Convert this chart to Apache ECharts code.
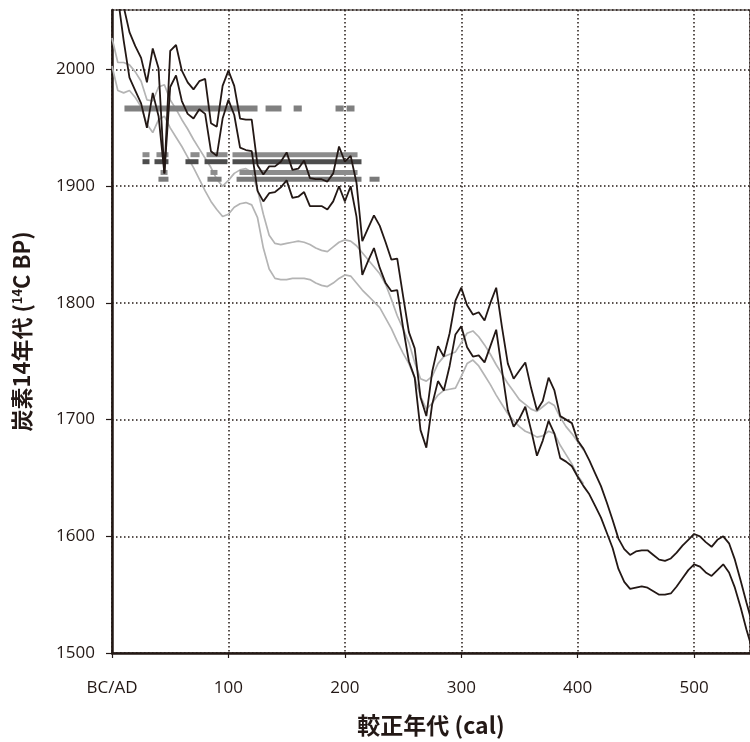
<!DOCTYPE html>
<html><head><meta charset="utf-8">
<script src="https://cdn.jsdelivr.net/npm/echarts@6/dist/echarts.min.js"></script>
<style>html,body{margin:0;padding:0;background:#fff}#c{width:750px;height:742px}</style>
</head><body><div id="c"></div>
<script>
// calendar years (cal AD), 5-year steps
const years = [0,5,10,15,20,25,30,35,40,45,50,55,60,65,70,75,80,85,90,95,100,105,110,115,120,125,130,135,140,145,150,155,160,165,170,175,180,185,190,195,200,205,210,215,220,225,230,235,240,245,250,255,260,265,270,275,280,285,290,295,300,305,310,315,320,325,330,335,340,345,350,355,360,365,370,375,380,385,390,395,400,405,410,415,420,425,430,435,440,445,450,455,460,465,470,475,480,485,490,495,500,505,510,515,520,525,530,535,540,545,550];
// black calibration curve, upper and lower bounds (14C BP)
const blackUpper = [2095,2075,2054,2032,2020,2010,1989,2018,2001,1911,2016,2021,1999,1989,1983,1990,1992,1954,1951,1986,1999,1986,1958,1957,1957,1918,1910,1917,1917,1921,1929,1914,1915,1922,1907,1906,1906,1904,1911,1934,1921,1926,1903,1853,1864,1875,1866,1852,1837,1838,1806,1775,1761,1719,1703,1741,1763,1754,1774,1802,1813,1798,1790,1792,1785,1800,1813,1779,1748,1735,1742,1749,1727,1708,1716,1736,1725,1703,1700,1697,1682,1675,1665,1654,1643,1629,1614,1598,1589,1584,1587,1588,1588,1584,1580,1579,1581,1586,1592,1597,1602,1600,1595,1591,1597,1600,1594,1580,1562,1543,1525];
const blackLower = [2090,2062,2025,1993,1982,1971,1950,1980,1960,1911,1985,1995,1973,1962,1958,1966,1962,1930,1926,1958,1974,1961,1933,1931,1930,1896,1887,1894,1895,1899,1905,1890,1891,1895,1883,1883,1883,1880,1887,1900,1887,1900,1874,1824,1836,1847,1830,1817,1810,1811,1779,1750,1736,1691,1676,1713,1733,1725,1746,1773,1780,1762,1754,1755,1749,1763,1777,1742,1708,1694,1701,1711,1691,1669,1682,1699,1688,1667,1664,1660,1651,1643,1636,1626,1616,1603,1590,1572,1561,1555,1556,1557,1556,1553,1550,1550,1551,1557,1564,1571,1576,1574,1569,1566,1571,1576,1569,1556,1539,1520,1503];
// gray curve, upper and lower bounds (years 0..405)
const grayUpper = [2027,2006,2006,2004,1998,1990,1974,1973,1985,1987,1974,1966,1957,1949,1940,1932,1924,1916,1906,1900,1905,1911,1914,1915,1912,1897,1876,1858,1851,1850,1851,1852,1853,1852,1850,1847,1845,1844,1848,1852,1854,1853,1849,1843,1837,1831,1825,1816,1803,1789,1778,1766,1749,1735,1733,1737,1748,1754,1756,1758,1766,1774,1776,1771,1764,1756,1747,1739,1731,1724,1717,1713,1709,1707,1711,1715,1712,1702,1694,1688,1681,1674];
const grayLower = [2003,1982,1980,1982,1976,1968,1953,1946,1957,1960,1950,1942,1934,1925,1916,1906,1896,1887,1880,1874,1876,1882,1885,1886,1884,1873,1847,1829,1821,1820,1820,1821,1821,1821,1820,1817,1815,1814,1817,1821,1824,1823,1817,1811,1806,1801,1796,1787,1778,1767,1757,1748,1736,1720,1709,1714,1721,1725,1726,1727,1737,1748,1751,1746,1738,1730,1721,1713,1705,1699,1694,1690,1688,1685,1686,1690,1688,1678,1670,1662,1652,1645];
// calibrated ranges: [from, to] in cal AD, each row at a 14C level
const range1966 = [[10.7,125],[131.9,145.6],[156,163],[192,199],[201.5,208.3]];
const range1927 = [[26.2,32.2],[38.2,48.5],[67.4,75.2],[81.2,99.2],[103.5,210.9]];
const range1921 = [[26.2,32.2],[36.5,48.5],[63.1,74.3],[79.5,99.2],[103.5,214.3]];
const range1912 = [[41.7,47.7],[84.6,90.6],[109.5,210.9]];
const range1906 = [[39.9,48.5],[82,94.1],[107,214.3],[221.2,229.8]];
const rangeLevels = [1966.6, 1927, 1921, 1911.8, 1906];
const xTicks = ['BC/AD','100','200','300','400','500'];

const ink = '#231815';
function pairs(xs, ys){ return ys.map((v,i)=>[xs[i], v]); }
function rangeData(segs, level){ return segs.map(s=>[s[0], s[1], level]); }
function rangeSeries(segs, level, color, h){
  return {
    type:'custom', z:3, silent:true,
    data: rangeData(segs, level),
    encode:{x:[0,1], y:2},
    renderItem:function(params, api){
      const a = api.coord([api.value(0), api.value(2)]);
      const b = api.coord([api.value(1), api.value(2)]);
      return {type:'rect', shape:{x:a[0], y:a[1]-h/2, width:b[0]-a[0], height:h}, style:{fill:color}};
    }
  };
}
const lineBase = {type:'line', showSymbol:false, symbol:'none', silent:true, clip:true};

const chart = echarts.init(document.getElementById('c'), null, {renderer:'canvas'});
chart.setOption({
  animation:false,
  backgroundColor:'#fff',
  grid:{left:112, right:0, top:10, bottom:89, containLabel:false, outerBoundsMode:'none',
    show:true, borderColor:ink, borderWidth:1.2, backgroundColor:'transparent'},
  xAxis:{
    type:'value', min:0, max:548, interval:100,
    name:'較正年代 (cal)', nameLocation:'middle', nameGap:61,
    nameTextStyle:{fontFamily:'Noto Sans CJK JP', fontWeight:'bold', fontSize:23, color:ink},
    axisLine:{lineStyle:{color:ink, width:2.5}},
    axisTick:{show:true, length:5, lineStyle:{color:ink, width:1.2}},
    axisLabel:{margin:27, fontFamily:'Open Sans', fontSize:17, color:ink, showMaxLabel:false,
      formatter:function(v){ return v % 100 === 0 ? xTicks[v/100] : ''; }},
    splitLine:{show:true, lineStyle:{color:ink, width:1.5, type:[1.5,2.5]}}
  },
  yAxis:{
    type:'value', min:1500, max:2051, interval:100,
    name:'炭素14年代 ({s|14}C BP)', nameLocation:'middle', nameGap:79, nameRotate:90,
    nameTextStyle:{fontFamily:'Noto Sans CJK JP', fontWeight:'bold', fontSize:22, color:ink,
      rich:{s:{fontFamily:'Noto Sans CJK JP', fontWeight:'bold', fontSize:13, color:ink, padding:[0,0,9,0]}}},
    axisLine:{show:true, lineStyle:{color:ink, width:2.5}},
    axisTick:{show:true, length:6, lineStyle:{color:ink, width:1.2}},
    axisLabel:{margin:17, fontFamily:'Open Sans', fontSize:17, color:ink, showMaxLabel:false,
      formatter:function(v){ return v % 100 === 0 ? String(v) : ''; }},
    splitLine:{show:true, lineStyle:{color:ink, width:1.5, type:[1.5,2.5]}}
  },
  series:[
    Object.assign({}, lineBase, {z:2, data:pairs(years, grayUpper), lineStyle:{color:'#b4b4b4', width:1.7}}),
    Object.assign({}, lineBase, {z:2, data:pairs(years, grayLower), lineStyle:{color:'#b4b4b4', width:1.7}}),
    rangeSeries(range1966, rangeLevels[0], '#808080', 6),
    rangeSeries(range1927, rangeLevels[1], '#8c8c8c', 5),
    rangeSeries(range1921, rangeLevels[2], '#4d4d4d', 5),
    rangeSeries(range1912, rangeLevels[3], '#8c8c8c', 5),
    rangeSeries(range1906, rangeLevels[4], '#7a7a7a', 5),
    Object.assign({}, lineBase, {z:4, data:pairs(years, blackUpper), lineStyle:{color:ink, width:1.8}}),
    Object.assign({}, lineBase, {z:4, data:pairs(years, blackLower), lineStyle:{color:ink, width:1.8}})
  ]
});
</script>
</body></html>
